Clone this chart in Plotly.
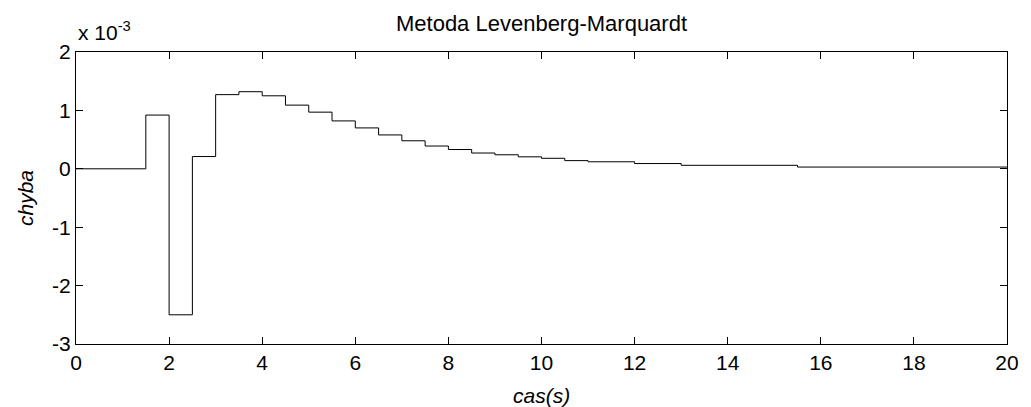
import plotly.graph_objects as go

# Data (error in units of 1e-3)
t = [0, 1.5, 2, 2.5, 3, 3.5, 4, 4.5, 5, 5.5, 6, 6.5, 7, 7.5, 8, 8.5, 9, 9.5, 10, 10.5, 11, 12, 13, 15.5, 20]
err = [0, 0.92, -2.5, 0.21, 1.27, 1.32, 1.25, 1.09, 0.97, 0.82, 0.70, 0.58, 0.48, 0.39, 0.33, 0.27, 0.24, 0.205, 0.18, 0.14, 0.12, 0.09, 0.06, 0.03, 0.03]
x_ticks = list(range(0, 21, 2))
y_ticks = [-3, -2, -1, 0, 1, 2]

FONT = "Liberation Sans, Arial, sans-serif"
W, H = 1031, 407
L, R, T, B = 76, 24, 52, 63

fig = go.Figure()
fig.add_trace(go.Scatter(x=t, y=err, mode="lines", line=dict(color="black", width=1, shape="hv"),
                         showlegend=False, hoverinfo="skip"))

axis_common = dict(showline=True, linecolor="black", linewidth=1, mirror="ticks",
                   ticks="inside", ticklen=7, tickcolor="black", showgrid=False, zeroline=False,
                   tickfont=dict(family=FONT, size=21, color="black"))

fig.update_layout(
    width=W, height=H,
    margin=dict(l=L, r=R, t=T, b=B),
    paper_bgcolor="white", plot_bgcolor="white",
    title=dict(text="Metoda Levenberg-Marquardt", x=0.5 * (L + W - R) / W, xanchor="center",
               y=1 - 23 / H, yanchor="middle", font=dict(family=FONT, size=22, color="black")),
    xaxis=dict(range=[0, 20], tickvals=x_ticks, ticktext=[str(v) for v in x_ticks], **axis_common),
    yaxis=dict(range=[-3, 2], tickvals=y_ticks, ticktext=[str(v) for v in y_ticks], **axis_common),
)

# axis titles
fig.add_annotation(text="<i>cas(s)</i>", xref="paper", yref="paper", x=0.5, y=0, xanchor="center",
                   yanchor="middle", yshift=-(395 - (H - B)), showarrow=False,
                   font=dict(family=FONT, size=21, color="black"))
fig.add_annotation(text="<i>chyba</i>", xref="paper", yref="paper", x=0, y=0.5, xanchor="center",
                   yanchor="middle", xshift=-(L - 25), textangle=-90, showarrow=False,
                   font=dict(family=FONT, size=21, color="black"))
# exponent label
fig.add_annotation(text="x 10<sup>-3</sup>", xref="paper", yref="paper", x=0, y=1, xanchor="left",
                   yanchor="bottom", yshift=6, xshift=0, showarrow=False,
                   font=dict(family=FONT, size=21, color="black"))

fig.write_html("out.html")
